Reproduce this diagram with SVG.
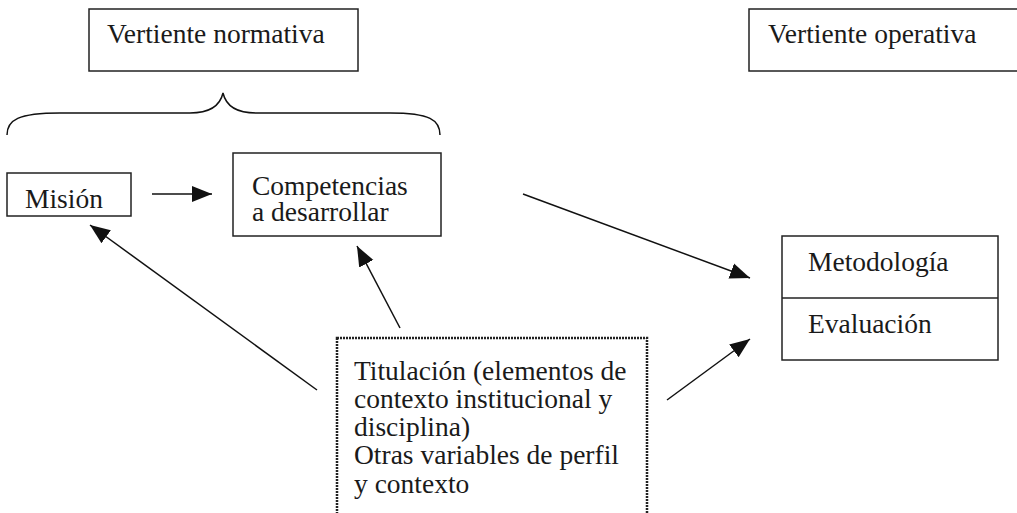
<svg xmlns="http://www.w3.org/2000/svg" width="1017" height="513" viewBox="0 0 1017 513">
<defs>
<style>
.box{fill:#fff;stroke:#222;stroke-width:1.5}
.dot{fill:#fff;stroke:#222;stroke-width:2.5;stroke-dasharray:2 1}
.t{font-family:"Liberation Serif","Times New Roman",serif;font-size:27.5px;fill:#1a1a1a}
.c{stroke:#111;stroke-width:1.5;fill:none}
</style>
<marker id="ah" markerUnits="userSpaceOnUse" markerWidth="22" markerHeight="18" refX="20" refY="9" orient="auto">
<path d="M0,1 L20,9 L0,17 Z" fill="#111"/>
</marker>
</defs>
<rect width="1017" height="513" fill="#fff"/>
<g id="vertiente-normativa">
<rect class="box" x="89" y="9" width="269" height="62"/>
<text class="t" x="107" y="43">Vertiente normativa</text>
</g>
<g id="vertiente-operativa">
<rect class="box" x="749" y="9" width="280" height="62"/>
<text class="t" x="768" y="43">Vertiente operativa</text>
</g>
<g id="brace">
<path class="c" d="M7,135 C7,120 18,113 60,113 L190,113 C210,113 220,106 223,93 C226,106 236,113 256,113 L390,113 C430,113 440,120 440,135"/>
</g>
<g id="mision">
<rect class="box" x="7" y="173" width="124" height="43"/>
<text class="t" x="25" y="208">Misión</text>
</g>
<g id="competencias">
<rect class="box" x="233" y="153" width="208" height="83"/>
<text class="t" x="252" y="195">Competencias</text>
<text class="t" x="252" y="221">a desarrollar</text>
</g>
<g id="metodologia-evaluacion">
<rect class="box" x="782" y="236" width="216" height="124"/>
<line class="box" x1="782" y1="298" x2="998" y2="298"/>
<text class="t" x="808" y="271">Metodología</text>
<text class="t" x="808" y="333">Evaluación</text>
</g>
<g id="titulacion">
<rect class="dot" x="337" y="338" width="310" height="180"/>
<text class="t" x="354" y="380">Titulación (elementos de</text>
<text class="t" x="354" y="408">contexto institucional y</text>
<text class="t" x="354" y="436">disciplina)</text>
<text class="t" x="354" y="464">Otras variables de perfil</text>
<text class="t" x="354" y="493">y contexto</text>
</g>
<g id="connectors">
<line class="c" x1="152" y1="194" x2="212" y2="194" marker-end="url(#ah)"/>
<line class="c" x1="523" y1="194" x2="750" y2="278" marker-end="url(#ah)"/>
<line class="c" x1="667" y1="400" x2="750" y2="339" marker-end="url(#ah)"/>
<line class="c" x1="317" y1="390" x2="90" y2="225" marker-end="url(#ah)"/>
<line class="c" x1="400" y1="328" x2="357" y2="246" marker-end="url(#ah)"/>
</g>
</svg>
